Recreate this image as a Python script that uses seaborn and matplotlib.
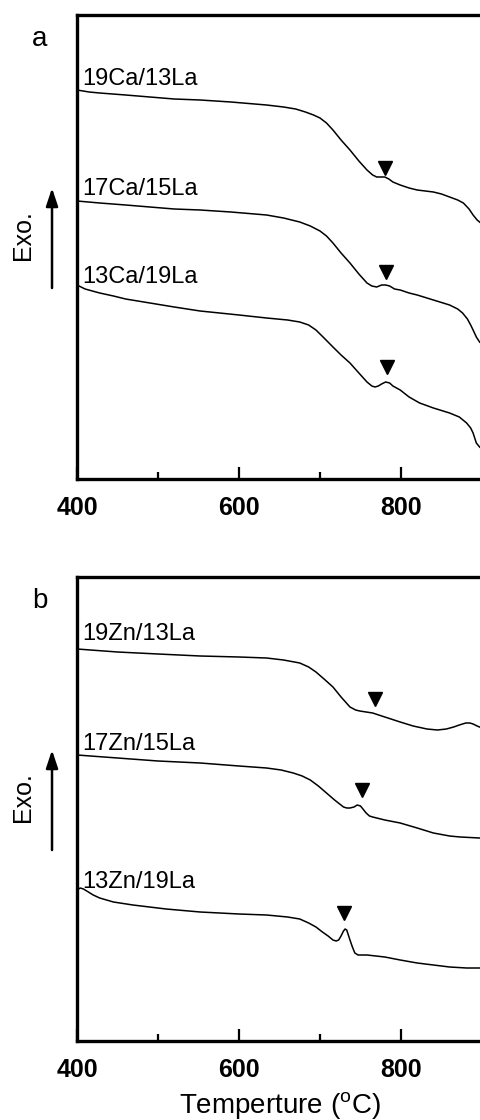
import numpy as np
import pandas as pd
import matplotlib
matplotlib.use("Agg")
import matplotlib.pyplot as plt
import seaborn as sns

# ---------------- data (arbitrary DTA units) ----------------
# panel a
t_19ca = [400, 415, 428, 460, 490, 520, 552, 590, 634, 655, 670, 682, 692, 700, 708, 716, 726, 737, 748, 758, 765, 770, 775, 780, 785, 790, 799, 810, 820, 830, 840, 850, 860, 870, 877, 884, 889, 894, 897, 900]
y_19ca = [389, 387, 386, 384, 382, 380, 379, 377, 374, 372, 370, 367, 364, 361, 356, 349, 339, 329, 318, 309, 304, 302, 302, 302, 300, 297, 294, 291, 289, 288, 287, 285, 282, 279, 276, 270, 264, 259, 257, 255]
t_17ca = [400, 428, 460, 490, 520, 552, 590, 634, 655, 675, 688, 700, 708, 716, 726, 737, 748, 758, 764, 770, 776, 781, 786, 792, 799, 810, 820, 840, 860, 870, 876, 882, 886, 889, 893, 897, 900]
y_17ca = [278, 276, 274, 272, 270, 269, 267, 264, 261, 257, 253, 248, 243, 236, 226, 216, 205, 196, 193, 192, 194, 194, 193, 190, 189, 186, 184, 179, 174, 170, 166, 160, 154, 149, 142, 137, 135]
t_13ca = [400, 410, 428, 445, 460, 490, 520, 552, 600, 634, 660, 675, 686, 695, 705, 716, 726, 737, 748, 758, 764, 768, 772, 776, 781, 786, 790, 799, 810, 823, 840, 860, 872, 881, 886, 889, 893, 897, 900]
y_13ca = [194, 190, 186, 183, 180, 176, 172, 168, 164, 161, 159, 157, 154, 149, 141, 132, 124, 116, 106, 97, 93, 92, 93, 95, 97, 96, 93, 89, 82, 76, 71, 66, 62, 56, 51, 46, 36, 32, 30]
# panel b
t_19zn = [400, 450, 500, 552, 600, 634, 655, 675, 686, 695, 705, 716, 726, 737, 744, 749, 757, 765, 780, 799, 815, 832, 845, 856, 865, 872, 880, 885, 889, 894, 897, 900]
y_19zn = [392, 389, 387, 385, 384, 383, 381, 378, 374, 369, 362, 354, 344, 334, 331, 330, 329, 328, 324, 319, 315, 312, 311, 312, 314, 316, 318, 318, 317, 315, 314, 313]
t_17zn = [400, 450, 500, 552, 600, 634, 652, 667, 678, 688, 698, 708, 718, 729, 733, 737, 742, 746, 750, 754, 757, 761, 765, 780, 799, 820, 840, 860, 873, 897, 900]
y_17zn = [286, 283, 280, 278, 275, 273, 271, 268, 265, 261, 255, 248, 241, 234, 233, 233, 234, 236, 235, 231, 228, 225, 224, 221, 218, 213, 208, 205, 204, 203, 203]
t_13zn = [400, 404, 408, 414, 420, 428, 445, 469, 510, 552, 600, 634, 660, 675, 686, 695, 703, 710, 716, 720, 723, 726, 729, 731, 733, 735, 737, 740, 743, 747, 758, 780, 799, 820, 840, 860, 881, 900]
y_13zn = [151, 153, 152, 149, 146, 143, 139, 136, 132, 129, 127, 126, 124, 122, 118, 114, 109, 105, 101, 100, 101, 105, 110, 112, 111, 106, 101, 94, 88, 86, 86, 84, 81, 78, 76, 74, 73, 73]

labels_a = ["19Ca/13La", "17Ca/15La", "13Ca/19La"]
labels_b = ["19Zn/13La", "17Zn/15La", "13Zn/19La"]
label_y_a = [394, 284, 196]
label_y_b = [401, 291, 153]
# peak markers (temperature, signal)
peak_t_a = [780, 781, 783]
peak_y_a = [311, 207, 112]
peak_t_b = [768, 752, 730]
peak_y_b = [342, 251, 128]

xticks = [400, 600, 800]
xtick_labels = ["400", "600", "800"]
minor_ticks = [500, 700, 900]

# ---------------- style ----------------
sns.set_theme(style="ticks")
plt.rcParams['font.family'] = ['Liberation Sans', 'DejaVu Sans']
plt.rcParams['mathtext.fontset'] = 'custom'
plt.rcParams['mathtext.rm'] = 'Liberation Sans'
plt.rcParams['text.color'] = 'black'
plt.rcParams['axes.labelcolor'] = 'black'
plt.rcParams['xtick.color'] = 'black'
plt.rcParams['ytick.color'] = 'black'

fig = plt.figure(figsize=(4.8, 11.2), dpi=100)
W, H = 480.0, 1120.0
left = 77 / W
width = (482 - 77) / W
axa = fig.add_axes([left, 1 - 479 / H, width, 464 / H])
axb = fig.add_axes([left, 1 - 1041 / H, width, 464 / H])


def draw(ax, ts, ys, labels, label_y, pk_t, pk_y, letter, show_xlabel):
    frames = []
    for t, y, lab in zip(ts, ys, labels):
        frames.append(pd.DataFrame({"T": t, "y": y, "s": lab}))
    df = pd.concat(frames, ignore_index=True)
    sns.lineplot(data=df, x="T", y="y", units="s", estimator=None, color="black",
                 lw=1.1, ax=ax, legend=False, sort=False)
    for lab, ly in zip(labels, label_y):
        ax.text(406, ly, lab, fontsize=17, va="baseline", ha="left", color="black")
    ax.plot(pk_t, pk_y, ls="none", marker="v", ms=10, color="black")
    ax.set_xlim(400, 900)
    ax.set_ylim(0, 464)
    ax.set_yticks([])
    ax.set_xticks(xticks)
    ax.set_xticklabels(xtick_labels, fontsize=18, fontweight="bold", color="black")
    ax.set_xticks(minor_ticks, minor=True)
    ax.tick_params(axis="x", which="major", direction="in", length=9, width=1.6, pad=12, color="black")
    ax.tick_params(axis="x", which="minor", direction="in", length=5, width=1.6, color="black")
    for sp in ax.spines.values():
        sp.set_linewidth(2.4)
        sp.set_color("black")
    ax.set_ylabel("")
    if show_xlabel:
        ax.set_xlabel("Temperture ($^{\\mathregular{o}}$C)", fontsize=20, labelpad=6, color="black")
    else:
        ax.set_xlabel("")
    ax.text(-0.0914, 0.948, letter, transform=ax.transAxes, fontsize=20, ha="center", va="center",
            color="black")
    ax.text(-0.133, 0.525, "Exo.", transform=ax.transAxes, fontsize=18, rotation=90,
            ha="center", va="center", color="black")
    ax.annotate("", xy=(-0.0617, 0.627), xytext=(-0.0617, 0.4116),
                xycoords="axes fraction", textcoords="axes fraction",
                arrowprops=dict(arrowstyle="-|>,head_length=0.9,head_width=0.3", lw=1.8,
                                color="black", shrinkA=0, shrinkB=0), annotation_clip=False)
    ax.set_facecolor("white")


draw(axa, [t_19ca, t_17ca, t_13ca], [y_19ca, y_17ca, y_13ca], labels_a, label_y_a,
     peak_t_a, peak_y_a, "a", False)
draw(axb, [t_19zn, t_17zn, t_13zn], [y_19zn, y_17zn, y_13zn], labels_b, label_y_b,
     peak_t_b, peak_y_b, "b", True)

fig.savefig("out.png", dpi=100, facecolor="white")
